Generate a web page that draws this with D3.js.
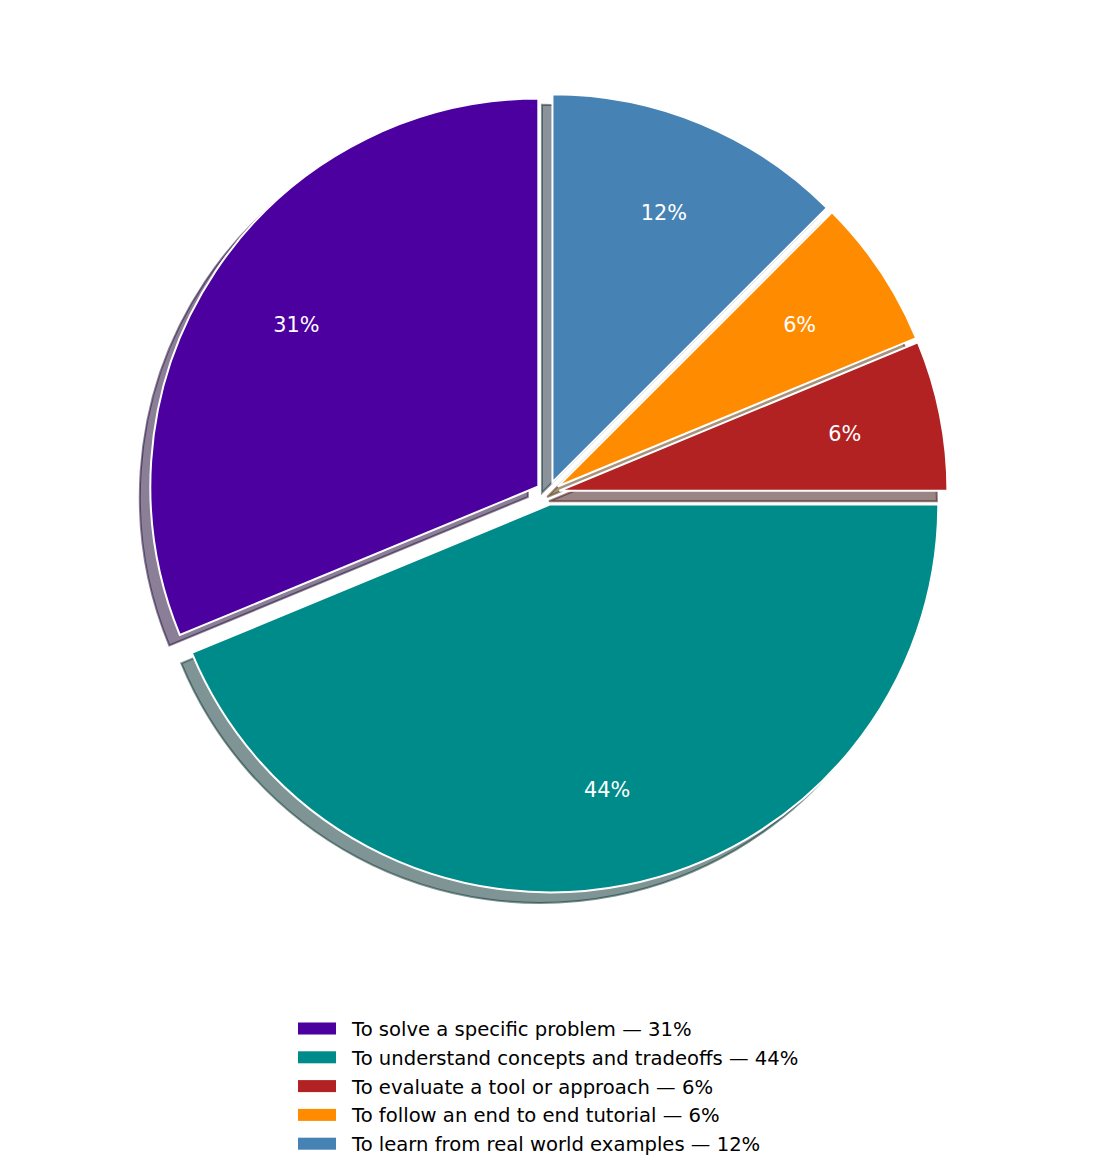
<!DOCTYPE html>
<html>
<head>
<meta charset="utf-8">
<script src="https://cdn.jsdelivr.net/npm/d3@7"></script>
<style>
  html, body { margin: 0; padding: 0; background: #ffffff; }
  svg { display: block; }
  text { font-family: "DejaVu Sans", sans-serif; }
</style>
</head>
<body>
<svg id="chart" width="1096" height="1172"></svg>
<script>
// ---- data ----
const categories = [
  "To solve a specific problem",
  "To understand concepts and tradeoffs",
  "To evaluate a tool or approach",
  "To follow an end to end tutorial",
  "To learn from real world examples"
];
const values = [5, 7, 1, 1, 2];
const pctLabels = ["31%", "44%", "6%", "6%", "12%"];
const colors = ["#4C00A0", "#008B8B", "#B22222", "#FF8C00", "#4682B4"];
const explode = [0.03, 0.03, 0.03, 0.03, 0.03];

// ---- layout ----
const W = 1096, H = 1172;
const cx = 548, cy = 493, R = 388;
const shadowOff = 10.5;
const pctDist = 0.75;

const svg = d3.select("#chart");
const g = svg.append("g").attr("transform", `translate(${cx},${cy})`);

// counter-clockwise starting at 12 o'clock (matplotlib startangle=90)
const pie = d3.pie().sort(null).value(d => d).startAngle(0).endAngle(-2 * Math.PI);
const arcs = pie(values);
const arc = d3.arc().innerRadius(0).outerRadius(R);

const mid = a => (a.startAngle + a.endAngle) / 2;
const offset = (a, i) => {
  const m = mid(a), e = explode[i] * R;
  return [Math.sin(m) * e, -Math.cos(m) * e];
};
const shade = c => {
  const r = d3.rgb(c);
  return d3.rgb(r.r * 0.3, r.g * 0.3, r.b * 0.3).formatHex();
};

// shadows (all drawn beneath wedges)
g.append("g").selectAll("path")
  .data(arcs)
  .join("path")
  .attr("d", arc)
  .attr("transform", (a, i) => {
    const [dx, dy] = offset(a, i);
    return `translate(${dx - shadowOff},${dy + shadowOff})`;
  })
  .attr("fill", (a, i) => shade(colors[i]))
  .attr("fill-opacity", 0.5)
  .attr("stroke", (a, i) => shade(colors[i]))
  .attr("stroke-opacity", 0.5)
  .attr("stroke-width", 2)
  .attr("stroke-linejoin", "miter");

// wedges
g.append("g").selectAll("path")
  .data(arcs)
  .join("path")
  .attr("d", arc)
  .attr("transform", (a, i) => {
    const [dx, dy] = offset(a, i);
    return `translate(${dx},${dy})`;
  })
  .attr("fill", (a, i) => colors[i])
  .attr("stroke", "#ffffff")
  .attr("stroke-width", 2)
  .attr("stroke-linejoin", "miter");

// percentage labels
g.append("g").selectAll("text")
  .data(arcs)
  .join("text")
  .attr("x", (a, i) => offset(a, i)[0] + Math.sin(mid(a)) * R * pctDist)
  .attr("y", (a, i) => offset(a, i)[1] - Math.cos(mid(a)) * R * pctDist)
  .attr("text-anchor", "middle")
  .attr("dominant-baseline", "central")
  .attr("fill", "#ffffff")
  .attr("font-size", "20.8px")
  .text((a, i) => pctLabels[i]);

// legend
const legend = svg.append("g").attr("transform", "translate(298,1028.5)");
const rowH = 28.8;
const items = legend.selectAll("g")
  .data(categories)
  .join("g")
  .attr("transform", (d, i) => `translate(0,${i * rowH})`);
items.append("rect")
  .attr("x", 0).attr("y", -6).attr("width", 38).attr("height", 12)
  .attr("fill", (d, i) => colors[i]);
items.append("text")
  .attr("x", 54).attr("y", 1)
  .attr("dominant-baseline", "central")
  .attr("font-size", "19.6px")
  .attr("fill", "#000000")
  .text((d, i) => `${d} — ${pctLabels[i]}`);
</script>
</body>
</html>
